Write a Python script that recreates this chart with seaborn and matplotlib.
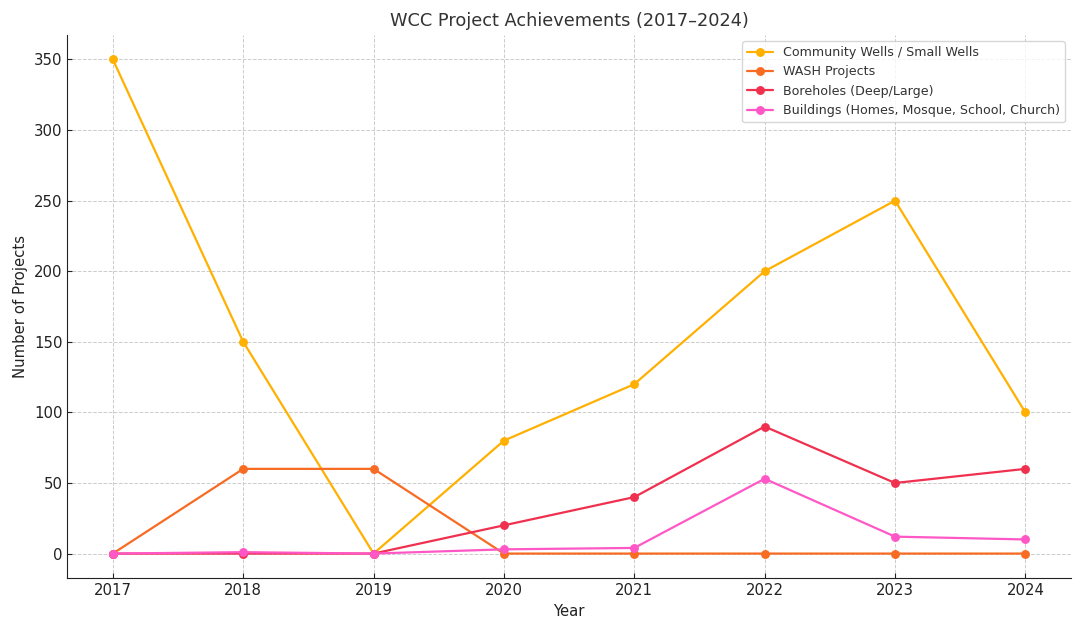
import matplotlib
matplotlib.use("Agg")
import matplotlib.pyplot as plt
import seaborn as sns
import pandas as pd

# ==========================================
# Data
# ==========================================

years = [2017, 2018, 2019, 2020, 2021, 2022, 2023, 2024]

community_wells = [350, 150, 0, 80, 120, 200, 250, 100]
wash_projects = [0, 60, 60, 0, 0, 0, 0, 0]
boreholes = [0, 0, 0, 20, 40, 90, 50, 60]
buildings = [0, 1, 0, 3, 4, 53, 12, 10]

series_names = [
    "Community Wells / Small Wells",
    "WASH Projects",
    "Boreholes (Deep/Large)",
    "Buildings (Homes, Mosque, School, Church)",
]
series_values = [community_wells, wash_projects, boreholes, buildings]
colors = ["#FFB000", "#F76B22", "#F0304F", "#FF58C6"]

df = pd.concat(
    [pd.DataFrame({"Year": years, "Projects": v, "Series": n})
     for n, v in zip(series_names, series_values)],
    ignore_index=True,
)

# ==========================================
# Plot
# ==========================================

sns.set_style("ticks", {
    "axes.grid": True,
    "grid.linestyle": "--",
    "grid.color": "#cccccc",
    "axes.edgecolor": "#222222",
})

fig, ax = plt.subplots(figsize=(10.84, 6.32), dpi=100)

sns.lineplot(
    data=df,
    x="Year",
    y="Projects",
    hue="Series",
    palette=colors,
    marker="o",
    markersize=6.4,
    markeredgewidth=0,
    linewidth=1.6,
    ax=ax,
)

ax.grid(True, linestyle="--", color="#cccccc", linewidth=0.7)
ax.set_xticks(years)
ax.tick_params(labelsize=10.7, colors="#222222", direction="in", length=3.5)
sns.despine(ax=ax)

ax.set_title("WCC Project Achievements (2017\u20132024)", fontsize=12.8, color="#333333")
ax.set_xlabel("Year", fontsize=10.7, color="#222222")
ax.set_ylabel("Number of Projects", fontsize=10.7, color="#222222")

leg = ax.legend(loc="upper right", fontsize=9.1, title=None, handlelength=2.0)
for t in leg.get_texts():
    t.set_color("#333333")

plt.subplots_adjust(left=0.062, right=0.988, top=0.945, bottom=0.085)

plt.savefig("out.png", dpi=100)
